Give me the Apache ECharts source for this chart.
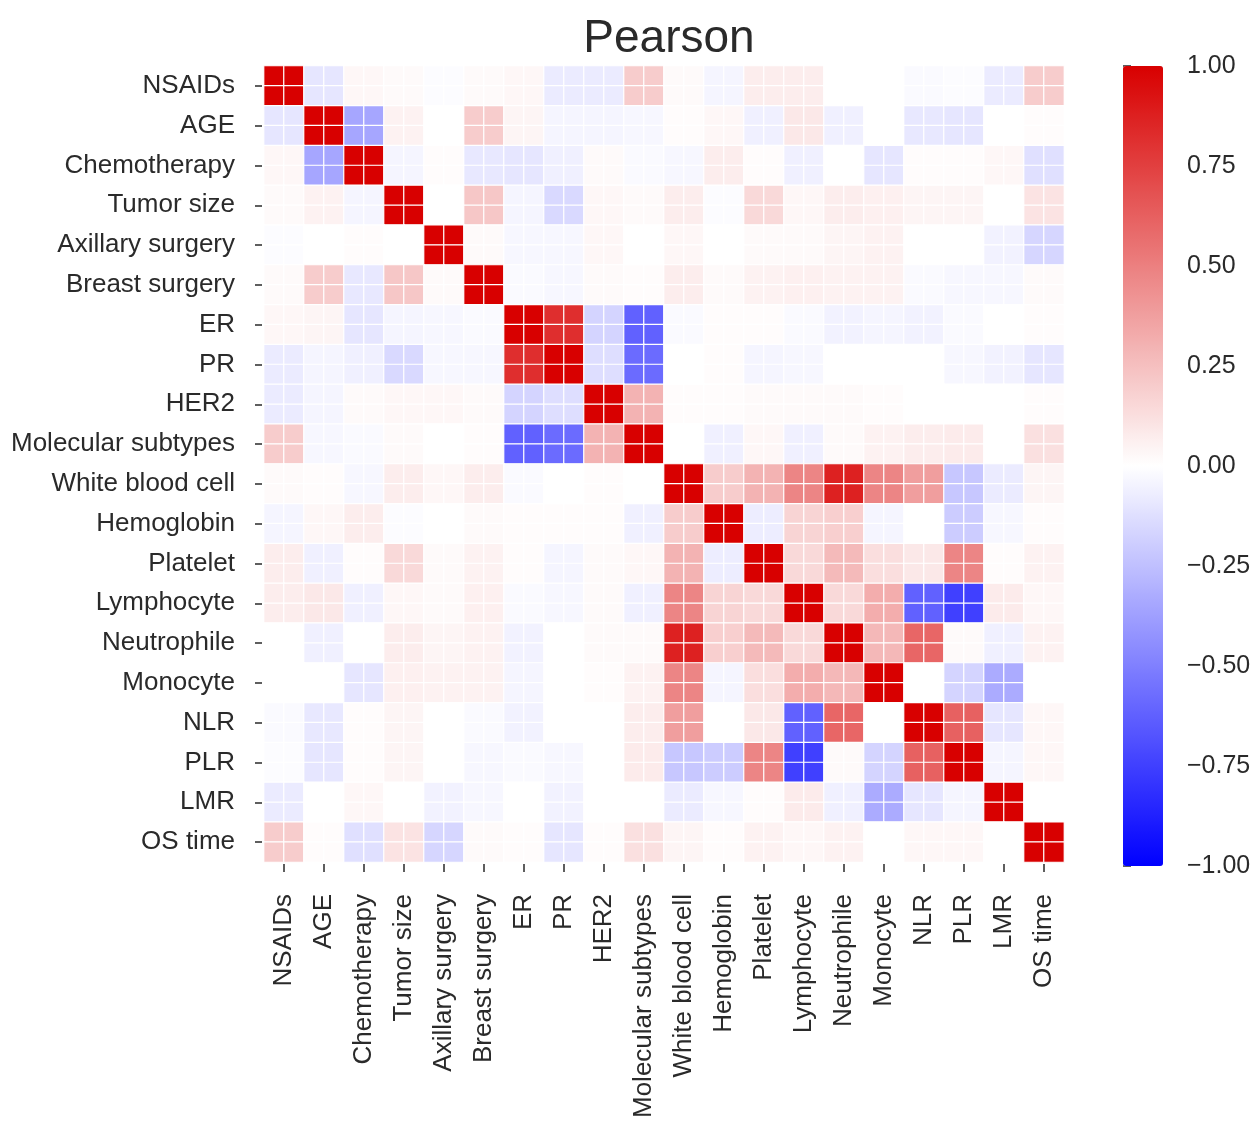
<!DOCTYPE html>
<html>
<head>
<meta charset="utf-8">
<script src="https://cdn.jsdelivr.net/npm/echarts@6/dist/echarts.min.js"></script>
<style>
html,body{margin:0;padding:0;background:#fff;}
#chart{width:1259px;height:1121px;}
</style>
</head>
<body>
<div id="chart"></div>
<script>
// Variable names (row / column order)
var variables = ['NSAIDs','AGE','Chemotherapy','Tumor size','Axillary surgery','Breast surgery','ER','PR','HER2','Molecular subtypes','White blood cell','Hemoglobin','Platelet','Lymphocyte','Neutrophile','Monocyte','NLR','PLR','LMR','OS time'];

// Correlation matrix rows (Pearson)
var rNSAIDs    = [ 1.00,-0.10, 0.03, 0.02,-0.01, 0.02, 0.03,-0.08,-0.08, 0.20, 0.02,-0.04, 0.07, 0.07, 0.00, 0.00,-0.02,-0.01,-0.08, 0.20];
var rAGE       = [-0.10, 1.00,-0.35, 0.05, 0.00, 0.20, 0.04,-0.04,-0.04,-0.03, 0.01, 0.03,-0.06, 0.09,-0.06, 0.00,-0.09,-0.10, 0.00, 0.01];
var rChemo     = [ 0.03,-0.35, 1.00,-0.04, 0.01,-0.09,-0.10,-0.06, 0.02,-0.02,-0.03, 0.07, 0.01,-0.06, 0.00,-0.10, 0.01, 0.01, 0.03,-0.12];
var rTumor     = [ 0.02, 0.05,-0.04, 1.00, 0.00, 0.22,-0.04,-0.15, 0.03, 0.02, 0.07,-0.01, 0.15, 0.03, 0.07, 0.06, 0.04, 0.04, 0.00, 0.11];
var rAxillary  = [-0.01, 0.00, 0.01, 0.00, 1.00, 0.02,-0.03,-0.03, 0.03, 0.00, 0.03, 0.00, 0.02, 0.02, 0.04, 0.05, 0.00, 0.00,-0.05,-0.16];
var rBreast    = [ 0.02, 0.20,-0.09, 0.22, 0.02, 1.00,-0.02,-0.03, 0.02, 0.01, 0.07, 0.02, 0.05, 0.06, 0.05, 0.05,-0.02,-0.03,-0.03, 0.02];
var rER        = [ 0.03, 0.04,-0.10,-0.04,-0.03,-0.02, 1.00, 0.82,-0.17,-0.62,-0.02, 0.01, 0.01,-0.02,-0.05,-0.04,-0.05,-0.02, 0.00, 0.01];
var rPR        = [-0.08,-0.04,-0.06,-0.15,-0.03,-0.03, 0.82, 1.00,-0.13,-0.58, 0.00, 0.01,-0.04,-0.03, 0.00, 0.00, 0.00,-0.03,-0.05,-0.10];
var rHER2      = [-0.08,-0.04, 0.02, 0.03, 0.03, 0.02,-0.17,-0.13, 1.00, 0.30, 0.01, 0.01, 0.02, 0.02, 0.02, 0.01, 0.00, 0.00, 0.00, 0.01];
var rMolecular = [ 0.20,-0.03,-0.02, 0.02, 0.00, 0.01,-0.62,-0.58, 0.30, 1.00, 0.00,-0.06, 0.03,-0.06, 0.02, 0.05, 0.07, 0.08, 0.00, 0.12];
var rWBC       = [ 0.02, 0.01,-0.03, 0.07, 0.03, 0.07,-0.02, 0.00, 0.01, 0.00, 1.00, 0.20, 0.30, 0.48, 0.87, 0.48, 0.38,-0.22,-0.08, 0.04];
var rHgb       = [-0.04, 0.03, 0.07,-0.01, 0.00, 0.02, 0.01, 0.01, 0.01,-0.06, 0.20, 1.00,-0.07, 0.17, 0.19,-0.04, 0.00,-0.20,-0.03, 0.01];
var rPlatelet  = [ 0.07,-0.06, 0.01, 0.15, 0.02, 0.05, 0.01,-0.04, 0.02, 0.03, 0.30,-0.07, 1.00, 0.15, 0.27, 0.13, 0.09, 0.48, 0.01, 0.05];
var rLympho    = [ 0.07, 0.09,-0.06, 0.03, 0.02, 0.06,-0.02,-0.03, 0.02,-0.06, 0.48, 0.17, 0.15, 1.00, 0.15, 0.32,-0.62,-0.75, 0.08, 0.03];
var rNeutro    = [ 0.00,-0.06, 0.00, 0.07, 0.04, 0.05,-0.05, 0.00, 0.02, 0.02, 0.87, 0.19, 0.27, 0.15, 1.00, 0.28, 0.60, 0.02,-0.06, 0.05];
var rMono      = [ 0.00, 0.00,-0.10, 0.06, 0.05, 0.05,-0.04, 0.00, 0.01, 0.05, 0.48,-0.04, 0.13, 0.32, 0.28, 1.00, 0.00,-0.17,-0.33, 0.00];
var rNLR       = [-0.02,-0.09, 0.01, 0.04, 0.00,-0.02,-0.05, 0.00, 0.00, 0.07, 0.38, 0.00, 0.09,-0.62, 0.60, 0.00, 1.00, 0.62,-0.10, 0.03];
var rPLR       = [-0.01,-0.10, 0.01, 0.04, 0.00,-0.03,-0.02,-0.03, 0.00, 0.08,-0.22,-0.20, 0.48,-0.75, 0.02,-0.17, 0.62, 1.00,-0.04, 0.03];
var rLMR       = [-0.08, 0.00, 0.03, 0.00,-0.05,-0.03, 0.00,-0.05, 0.00, 0.00,-0.08,-0.03, 0.01, 0.08,-0.06,-0.33,-0.10,-0.04, 1.00, 0.00];
var rOS        = [ 0.20, 0.01,-0.12, 0.11,-0.16, 0.02, 0.01,-0.10, 0.01, 0.12, 0.04, 0.01, 0.05, 0.03, 0.05, 0.00, 0.03, 0.03, 0.00, 1.00];

var matrixRows = [rNSAIDs,rAGE,rChemo,rTumor,rAxillary,rBreast,rER,rPR,rHER2,rMolecular,rWBC,rHgb,rPlatelet,rLympho,rNeutro,rMono,rNLR,rPLR,rLMR,rOS];

// Colorbar ticks
var colorbarMin = -1, colorbarMax = 1, colorbarStep = 0.25;

// Each variable cell is drawn as 2x2 sub-cells (as in the picture)
var sub = [];
for (var k = 0; k < variables.length * 2; k++) sub.push(String(k));
var cells = [];
for (var i = 0; i < matrixRows.length; i++) {
  for (var j = 0; j < matrixRows[i].length; j++) {
    var v = matrixRows[i][j];
    for (var a = 0; a < 2; a++) for (var b = 0; b < 2; b++) {
      cells.push([2 * j + a, 2 * i + b, v]);
    }
  }
}

var FONT = '"Liberation Sans", Arial, Helvetica, sans-serif';
var TXT = '#2a2a2a';

var chart = echarts.init(document.getElementById('chart'), null, {renderer: 'canvas'});
chart.setOption({
  backgroundColor: '#fff',
  animation: false,
  title: {
    text: 'Pearson',
    left: 664, top: 11, textAlign: 'center',
    textStyle: {fontSize: 46, fontWeight: 'normal', color: TXT, fontFamily: FONT}
  },
  grid: [
    {left: 264, top: 66, width: 800, height: 800},
    {left: 1123, top: 66, width: 40, height: 800}
  ],
  xAxis: [
    {
      type: 'category', gridIndex: 0, data: variables, position: 'bottom', offset: 2,
      axisLine: {show: false},
      axisTick: {show: true, alignWithLabel: true, length: 8, lineStyle: {color: TXT, width: 1.5}},
      axisLabel: {rotate: 90, interval: 0, margin: 30, fontSize: 26, color: TXT, fontFamily: FONT},
      splitLine: {show: false}
    },
    {type: 'category', gridIndex: 0, data: sub, show: false},
    {type: 'value', gridIndex: 1, show: false, min: 0, max: 1}
  ],
  yAxis: [
    {
      type: 'category', gridIndex: 0, data: variables, inverse: true, offset: 2,
      axisLine: {show: false},
      axisTick: {show: true, alignWithLabel: true, length: 7, lineStyle: {color: TXT, width: 1.5}},
      axisLabel: {interval: 0, margin: 27, fontSize: 26, color: TXT, fontFamily: FONT, padding: [7, 0, 0, 0]},
      splitLine: {show: false}
    },
    {type: 'category', gridIndex: 0, data: sub, inverse: true, show: false},
    {
      type: 'value', gridIndex: 1, position: 'right', min: colorbarMin, max: colorbarMax,
      interval: colorbarStep, offset: 2,
      axisLine: {show: false},
      axisTick: {show: true, length: 8, lineStyle: {color: TXT, width: 1.5}},
      splitLine: {show: false},
      axisLabel: {
        margin: 22, fontSize: 25, color: TXT, fontFamily: FONT, padding: [5, 0, 0, 0],
        formatter: function (v) { return (v < 0 ? '\u2212' : '') + Math.abs(v).toFixed(2); }
      }
    }
  ],
  visualMap: {
    type: 'continuous', min: colorbarMin, max: colorbarMax, dimension: 2, seriesIndex: 0,
    orient: 'vertical', left: 1123, top: 66, itemWidth: 40, itemHeight: 800,
    padding: 0, calculable: false, hoverLink: false, text: null, showLabel: false,
    inRange: {color: ['#0000ff', '#ffffff', '#d80000']}
  },
  series: [{
    type: 'heatmap', xAxisIndex: 1, yAxisIndex: 1, data: cells,
    itemStyle: {borderColor: '#ffffff', borderWidth: 1.2},
    emphasis: {disabled: true}
  }]
});
</script>
</body>
</html>
